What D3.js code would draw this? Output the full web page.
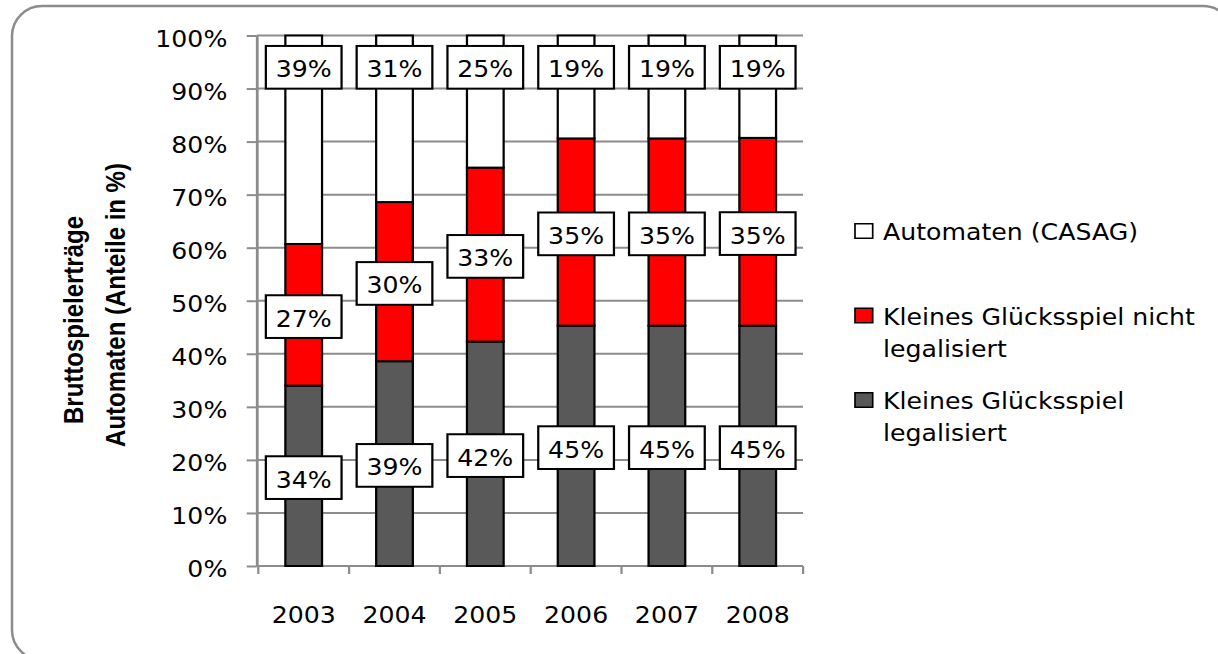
<!DOCTYPE html>
<html>
<head>
<meta charset="utf-8">
<script src="https://cdn.jsdelivr.net/npm/d3@7"></script>
<style>
	body { margin: 0; background: #fff; }
	svg { display: block; }
</style>
</head>
<body>
<div id="chart"></div>
<script>
// data (shares in %)
var years = ['2003', '2004', '2005', '2006', '2007', '2008'];
var legalisiert = [34.0, 38.6, 42.3, 45.3, 45.3, 45.3];
var nichtLegalisiert = [26.7, 30.0, 32.8, 35.3, 35.3, 35.4];
var casag = [39.3, 31.4, 24.9, 19.4, 19.4, 19.3];
var yTicks = [0, 10, 20, 30, 40, 50, 60, 70, 80, 90, 100];

var seriesKeys = ['leg', 'nicht', 'casag'];
var legendLines = {
	casag: ['Automaten (CASAG)'],
	nicht: ['Kleines Glücksspiel nicht', 'legalisiert'],
	leg: ['Kleines Glücksspiel', 'legalisiert']
};
var legendOrder = ['casag', 'nicht', 'leg'];
var titleLines = ['Bruttospielerträge', 'Automaten (Anteile in %)'];

var colors = { leg: '#595959', nicht: '#ff0000', casag: '#ffffff' };

// the original picture is a bit wider than tall, so everything is stretched a little
var SX = 1.12;
function px(v) { return v / SX; }

var width = 1218, height = 654;
var font = "'DejaVu Sans', Verdana, sans-serif";
var gridColor = '#8c8c8c';

var rows = years.map(function(d, i) {
	return { year: d, leg: legalisiert[i], nicht: nichtLegalisiert[i], casag: casag[i] };
});

var svg = d3.select('#chart').append('svg')
	.attr('width', width)
	.attr('height', height);

// rounded frame
svg.append('rect')
	.attr('x', 12).attr('y', 6)
	.attr('width', 1221).attr('height', 654)
	.attr('rx', 30).attr('ry', 30)
	.attr('fill', 'none')
	.attr('stroke', gridColor)
	.attr('stroke-width', 2.5);

var g = svg.append('g').attr('transform', 'scale(' + SX + ',1)');

var x = d3.scaleBand()
	.domain(years)
	.range([px(258.3), px(803.1)])
	.paddingInner(0.596)
	.paddingOuter(0.298);

var y = d3.scaleLinear()
	.domain([0, 100])
	.range([566, 35.5]);

// gridlines
g.append('g').attr('class', 'grid')
	.selectAll('line')
	.data(yTicks)
	.join('line')
	.attr('x1', px(256.7))
	.attr('x2', px(803))
	.attr('y1', function(d) { return y(d); })
	.attr('y2', function(d) { return y(d); })
	.attr('stroke', gridColor)
	.attr('stroke-width', 2);

// y axis
var yAxis = g.append('g')
	.attr('class', 'y-axis')
	.attr('transform', 'translate(' + px(256.7) + ',0)')
	.call(d3.axisLeft(y)
		.tickValues(yTicks)
		.tickSize(px(10))
		.tickSizeOuter(0)
		.tickPadding(17.3)
		.tickFormat(function(d) { return d + '%'; }));
yAxis.select('.domain').attr('stroke', gridColor).attr('stroke-width', 2.5);
yAxis.selectAll('.tick line').attr('stroke', gridColor).attr('stroke-width', 2);
yAxis.selectAll('.tick text')
	.attr('dy', '0.47em')
	.attr('fill', '#000')
	.style('font-family', font)
	.style('font-size', '22.5px');

// x axis: labels at band centres, ticks at band boundaries
var xAxis = g.append('g')
	.attr('class', 'x-axis')
	.attr('transform', 'translate(0,' + y(0) + ')')
	.call(d3.axisBottom(x).tickSize(0).tickPadding(41));
xAxis.select('.domain').remove();
xAxis.selectAll('.tick text')
	.attr('fill', '#000')
	.style('font-family', font)
	.style('font-size', '22.5px');

var half = (x.step() - x.bandwidth()) / 2;
var bounds = years.map(function(d) { return x(d) - half; });
bounds.push(x(years[years.length - 1]) + x.bandwidth() + half);
g.append('g').selectAll('line')
	.data(bounds)
	.join('line')
	.attr('x1', function(d) { return d; })
	.attr('x2', function(d) { return d; })
	.attr('y1', y(0))
	.attr('y2', y(0) + 8)
	.attr('stroke', gridColor)
	.attr('stroke-width', 2);

// stacked bars
var stacked = d3.stack().keys(seriesKeys)(rows);

g.append('g').attr('class', 'bars')
	.selectAll('g')
	.data(stacked)
	.join('g')
	.attr('fill', function(d) { return colors[d.key]; })
	.selectAll('rect')
	.data(function(d) { return d; })
	.join('rect')
	.attr('x', function(d) { return x(d.data.year); })
	.attr('y', function(d) { return y(d[1]); })
	.attr('width', x.bandwidth())
	.attr('height', function(d) { return y(d[0]) - y(d[1]); })
	.attr('stroke', '#000')
	.attr('stroke-width', 2);

// value labels in white boxes
var boxW = px(75.7), boxH = 42.7;
function labelY(key, d) {
	if (key === 'casag') return y(100) + 31.8; // inside end
	return (y(d[0]) + y(d[1])) / 2 + 1.8;
}

var labels = g.append('g').attr('class', 'labels')
	.selectAll('g')
	.data(stacked)
	.join('g')
	.selectAll('g')
	.data(function(s) { return s.map(function(d) { return { key: s.key, d: d }; }); })
	.join('g')
	.attr('transform', function(o) {
		return 'translate(' + (x(o.d.data.year) + x.bandwidth() / 2) + ',' + labelY(o.key, o.d) + ')';
	});

labels.append('rect')
	.attr('x', -boxW / 2)
	.attr('y', -boxH / 2)
	.attr('width', boxW)
	.attr('height', boxH)
	.attr('fill', '#fff')
	.attr('stroke', '#000')
	.attr('stroke-width', 2);

labels.append('text')
	.attr('y', 10)
	.attr('text-anchor', 'middle')
	.style('font-family', font)
	.style('font-size', '22.5px')
	.text(function(o) { return Math.round(o.d.data[o.key]) + '%'; });

// legend
var legend = g.append('g').attr('class', 'legend')
	.selectAll('g')
	.data(legendOrder)
	.join('g')
	.attr('transform', function(d, i) { return 'translate(0,' + (231 + i * 84.5) + ')'; });

legend.append('rect')
	.attr('x', px(855))
	.attr('y', -7.25)
	.attr('width', px(17.7))
	.attr('height', 14.5)
	.attr('fill', function(d) { return colors[d]; })
	.attr('stroke', '#000')
	.attr('stroke-width', 1.5);

legend.append('text')
	.style('font-family', font)
	.style('font-size', '22.5px')
	.selectAll('tspan')
	.data(function(d) { return legendLines[d]; })
	.join('tspan')
	.attr('x', px(883))
	.attr('y', function(d, i) { return 9 + i * 32.5; })
	.text(function(d) { return d; });

// y axis title, two rotated lines
var titlePos = [{ x: 83.3, y: 320 }, { x: 125, y: 305 }];
g.append('g').attr('class', 'title')
	.selectAll('text')
	.data(titleLines)
	.join('text')
	.attr('transform', function(d, i) {
		return 'translate(' + px(titlePos[i].x) + ',' + titlePos[i].y + ') rotate(-90)';
	})
	.attr('text-anchor', 'middle')
	.style('font-family', "'Liberation Sans', Arial, sans-serif")
	.style('font-weight', 'bold')
	.style('font-size', '24px')
	.text(function(d) { return d; });
</script>
</body>
</html>
